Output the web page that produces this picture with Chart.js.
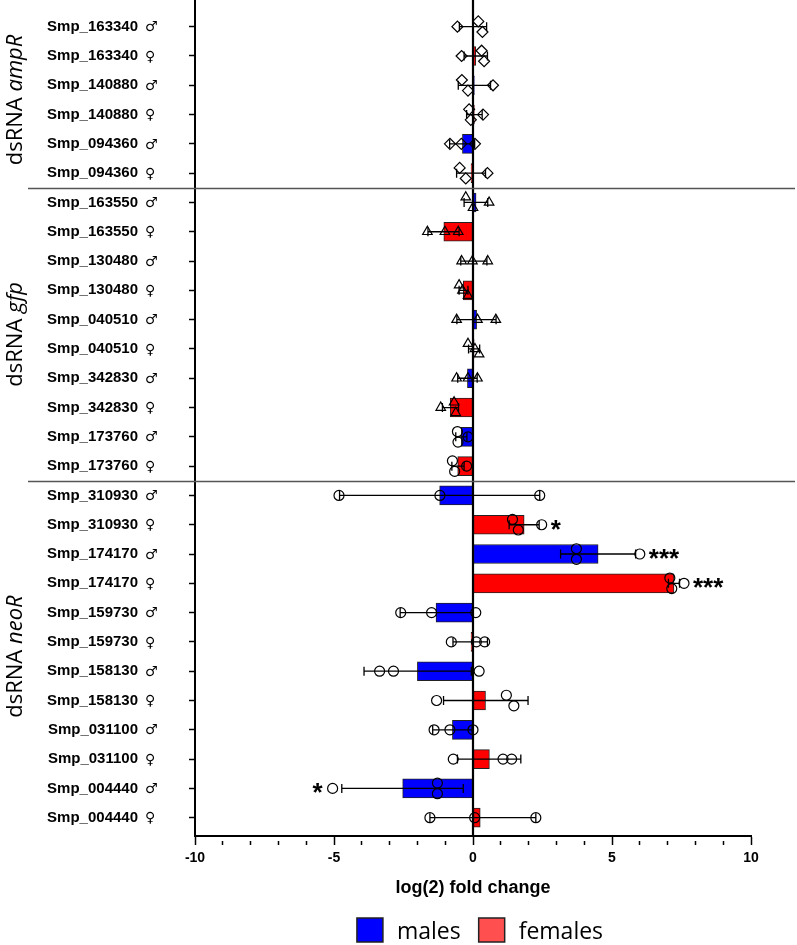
<!DOCTYPE html>
<html>
<head>
<meta charset="utf-8">
<script src="https://cdn.jsdelivr.net/npm/chart.js@4.4.1/dist/chart.umd.min.js"></script>
<style>
  html, body { margin: 0; padding: 0; background: #fff; }
</style>
</head>
<body>
<canvas id="chart" width="797" height="945"></canvas>
<script>
// rows, top to bottom
const labels = [
  'Smp_163340 ♂', 'Smp_163340 ♀', 'Smp_140880 ♂', 'Smp_140880 ♀', 'Smp_094360 ♂', 'Smp_094360 ♀',
  'Smp_163550 ♂', 'Smp_163550 ♀', 'Smp_130480 ♂', 'Smp_130480 ♀', 'Smp_040510 ♂', 'Smp_040510 ♀',
  'Smp_342830 ♂', 'Smp_342830 ♀', 'Smp_173760 ♂', 'Smp_173760 ♀',
  'Smp_310930 ♂', 'Smp_310930 ♀', 'Smp_174170 ♂', 'Smp_174170 ♀', 'Smp_159730 ♂', 'Smp_159730 ♀',
  'Smp_158130 ♂', 'Smp_158130 ♀', 'Smp_031100 ♂', 'Smp_031100 ♀', 'Smp_004440 ♂', 'Smp_004440 ♀'
];

// mean log2 fold change
const means = [
  0.0, 0.1, 0.05, 0.05, -0.38, -0.07,
  0.11, -1.05, 0.03, -0.35, 0.13, 0.04, -0.2, -0.82, -0.42, -0.55,
  -1.2, 1.84, 4.5, 7.23, -1.33, -0.07, -2.0, 0.45, -0.74, 0.59, -2.53, 0.26
];
// error bar ends
const errLow = [
  -0.49, -0.32, -0.53, -0.23, -0.84, -0.59,
  -0.32, -1.62, -0.44, -0.5, -0.58, -0.16, -0.55, -1.1, -0.62, -0.76,
  -4.8, 1.3, 3.15, 7.03, -2.62, -0.72, -3.92, -1.06, -1.45, -0.56, -4.72, -1.55
];
const errHigh = [
  0.49, 0.52, 0.63, 0.33, 0.06, 0.45,
  0.53, -0.5, 0.5, -0.18, 0.83, 0.24, 0.15, -0.52, -0.22, -0.32,
  2.4, 2.38, 5.85, 7.43, 0.0, 0.52, -0.06, 1.98, -0.03, 1.72, -0.35, 2.26
];
// individual replicates
const replicates = [
  [-0.56, 0.19, 0.34], [-0.41, 0.31, 0.40], [-0.40, -0.18, 0.72], [-0.14, -0.08, 0.36],
  [-0.83, -0.42, 0.07], [-0.48, -0.26, 0.52],
  [-0.26, 0.0, 0.58], [-1.64, -1.01, -0.53], [-0.41, -0.02, 0.53], [-0.5, -0.38, -0.18],
  [-0.59, 0.16, 0.82], [-0.18, 0.07, 0.22], [-0.59, -0.18, 0.16], [-1.16, -0.68, -0.62],
  [-0.56, -0.54, -0.18], [-0.74, -0.66, -0.23],
  [-4.82, -1.19, 2.40], [1.42, 1.63, 2.47], [3.72, 3.72, 6.0], [7.08, 7.15, 7.59],
  [-2.6, -1.49, 0.1], [-0.78, 0.12, 0.42], [-3.36, -2.86, 0.22], [-1.31, 1.2, 1.47],
  [-1.4, -0.83, 0.0], [-0.71, 1.08, 1.39], [-5.05, -1.28, -1.28], [-1.55, 0.06, 2.26]
];
const stars = [
  '', '', '', '', '', '',
  '', '', '', '', '', '', '', '', '', '',
  '', '*', '***', '***', '', '', '', '', '', '', '*', ''
];
// dsRNA treatment groups: name, first row, last row
const groupNames = ['ampR', 'gfp', 'neoR'];
const groupFirst = [0, 6, 16];
const groupLast = [5, 15, 27];

const xTicks = [-10, -5, 0, 5, 10];

// marker shape per run of rows
const markerRuns = [['rectRot', 6], ['triangle', 8], ['circle', 14]];
function markerOf(row) {
  let start = 0;
  for (const [shape, n] of markerRuns) {
    if (row < start + n) return shape;
    start += n;
  }
  return 'circle';
}

const FONT = "'Liberation Sans', Arial, sans-serif";

// bars: males on even rows, females on odd rows
const maleBars = [], femaleBars = [];
means.forEach((v, i) => (i % 2 === 0 ? maleBars : femaleBars).push({ x: v, y: i }));

// replicate points, nudged up/down when they overlap
const points = [];
replicates.forEach((vals, row) => {
  const sorted = vals.map((v, k) => ({ v, k })).sort((a, b) => a.v - b.v);
  let cluster = [sorted[0]];
  const flush = () => {
    const n = cluster.length;
    cluster.forEach((p, j) => {
      const off = n === 1 ? 0 : (j / (n - 1) - 0.5) * 0.36;
      points.push({ x: p.v, y: row + off, row: row });
    });
  };
  for (let j = 1; j < sorted.length; j++) {
    if (sorted[j].v - sorted[j - 1].v < 0.3) cluster.push(sorted[j]);
    else { flush(); cluster = [sorted[j]]; }
  }
  flush();
});

const overlay = {
  id: 'overlay',
  beforeDatasetDraw(chart, args) {
    if (args.meta.type !== 'scatter') return;
    const xs = chart.scales.x, ys = chart.scales.y, c = chart.ctx;
    c.save();
    c.strokeStyle = '#000';
    c.lineWidth = 1.3;
    means.forEach((m, i) => {
      const y = ys.getPixelForValue(i);
      const a = xs.getPixelForValue(errLow[i]), b = xs.getPixelForValue(errHigh[i]);
      c.beginPath();
      c.moveTo(a, y); c.lineTo(b, y);
      c.moveTo(a, y - 4.5); c.lineTo(a, y + 4.5);
      c.moveTo(b, y - 4.5); c.lineTo(b, y + 4.5);
      c.stroke();
    });
    c.restore();
  },
  afterDatasetsDraw(chart) {
    const xs = chart.scales.x, ys = chart.scales.y, c = chart.ctx, area = chart.chartArea;
    c.save();
    // zero line
    const x0 = xs.getPixelForValue(0);
    c.strokeStyle = '#000';
    c.lineWidth = 2.2;
    c.beginPath(); c.moveTo(x0, area.top); c.lineTo(x0, area.bottom); c.stroke();
    // significance stars
    c.fillStyle = '#000';
    c.font = 'bold 26px ' + FONT;
    c.textBaseline = 'alphabetic';
    stars.forEach((s, i) => {
      if (!s) return;
      const y = ys.getPixelForValue(i) + 13;
      if (means[i] >= 0) {
        const far = Math.max(errHigh[i], ...replicates[i]);
        c.textAlign = 'left';
        c.fillText(s, xs.getPixelForValue(far) + 9, y);
      } else {
        const far = Math.min(errLow[i], ...replicates[i]);
        c.textAlign = 'right';
        c.fillText(s, xs.getPixelForValue(far) - 10, y);
      }
    });
    c.restore();
  },
  afterDraw(chart) {
    const ys = chart.scales.y, c = chart.ctx;
    c.save();
    // sex symbols after the gene names
    c.fillStyle = '#000';
    c.font = "14px 'DejaVu Sans', sans-serif";
    c.textAlign = 'left';
    c.textBaseline = 'middle';
    labels.forEach((lab, i) => {
      c.fillText(lab.split(' ')[1], 145, ys.getPixelForValue(i) + 1);
    });
    // separators between treatment groups
    c.strokeStyle = '#555';
    c.lineWidth = 1.5;
    for (let g = 1; g < groupFirst.length; g++) {
      const y = Math.round(ys.getPixelForValue(groupFirst[g] - 0.5)) + 0.5;
      c.beginPath(); c.moveTo(28, y); c.lineTo(795, y); c.stroke();
    }
    // group titles
    c.textBaseline = 'alphabetic';
    groupNames.forEach((name, g) => {
      const yc = (ys.getPixelForValue(groupFirst[g]) + ys.getPixelForValue(groupLast[g])) / 2;
      const reg = "22px 'Open Sans', sans-serif", ita = "italic 22px 'Open Sans', sans-serif";
      c.font = reg; const w1 = c.measureText('dsRNA ').width;
      c.font = ita; const w2 = c.measureText(name).width;
      c.save();
      c.translate(21.5, yc);
      c.rotate(-Math.PI / 2);
      c.textAlign = 'left';
      c.font = reg; c.fillText('dsRNA ', -(w1 + w2) / 2, 0);
      c.font = ita; c.fillText(name, -(w1 + w2) / 2 + w1, 0);
      c.restore();
    });
    // legend
    const items = [['males', '#0000ff'], ['females', '#ff4f4f']];
    c.font = "23px 'Open Sans', sans-serif";
    const widths = items.map(it => c.measureText(it[0]).width);
    const total = widths.reduce((a, b) => a + b, 0) + items.length * 40 + 18;
    let x = 480 - total / 2;
    c.textAlign = 'left';
    items.forEach((it, k) => {
      c.fillStyle = it[1];
      c.fillRect(x, 918, 26, 24);
      c.strokeStyle = '#222';
      c.lineWidth = 1.5;
      c.strokeRect(x, 918, 26, 24);
      c.fillStyle = '#000';
      c.fillText(it[0], x + 40, 939);
      x += 40 + widths[k] + 18;
    });
    c.restore();
  }
};

new Chart(document.getElementById('chart'), {
  type: 'bar',
  data: {
    datasets: [
      { label: 'males', data: maleBars, backgroundColor: '#0000ff', borderColor: '#222',
        borderWidth: 1, borderSkipped: false, barThickness: 19, grouped: false, order: 2 },
      { label: 'females', data: femaleBars, backgroundColor: '#ff0000', borderColor: '#222',
        borderWidth: 1, borderSkipped: false, barThickness: 19, grouped: false, order: 2 },
      { type: 'scatter', label: 'replicates', data: points, order: 1,
        backgroundColor: 'rgba(0,0,0,0)', borderColor: '#000', borderWidth: 1.2,
        pointStyle: ctx => markerOf(ctx.raw ? ctx.raw.row : 0),
        pointRadius: ctx => (markerOf(ctx.raw ? ctx.raw.row : 0) === 'circle' ? 5 : 5.5) }
    ]
  },
  options: {
    indexAxis: 'y',
    responsive: false,
    animation: false,
    layout: { autoPadding: false, padding: { left: 0, right: 46, top: 0, bottom: 0 } },
    plugins: { legend: { display: false }, tooltip: { enabled: false } },
    scales: {
      x: {
        type: 'linear', position: 'bottom', min: -10, max: 10,
        afterFit: s => { s.height = 109; },
        afterBuildTicks: s => {
          s.ticks = [];
          for (let v = xTicks[0]; v <= xTicks[xTicks.length - 1]; v++) s.ticks.push({ value: v });
        },
        ticks: {
          autoSkip: false, maxRotation: 0, padding: 5, color: '#000',
          font: { family: FONT, size: 14, weight: 'bold' },
          callback: v => (xTicks.includes(v) ? String(v) : '')
        },
        grid: {
          drawOnChartArea: false, tickLength: 9, tickColor: '#000', tickWidth: 1.5,
          tickBorderDash: ctx => (ctx.tick && xTicks.includes(ctx.tick.value) ? [] : [0, 4, 6, 40])
        },
        border: { color: '#000', width: 2 },
        title: {
          display: true, text: 'log(2) fold change', color: '#000',
          font: { family: FONT, size: 18, weight: 'bold' },
          padding: { top: 4, bottom: 46 }
        }
      },
      y: {
        type: 'linear', position: 'left', reverse: true, min: -0.911, max: 27.625,
        offset: false,
        afterFit: s => { s.width = 195; s.paddingTop = 0; s.paddingBottom = 0; },
        afterBuildTicks: s => { s.ticks = labels.map((_, i) => ({ value: i })); },
        ticks: {
          autoSkip: false, padding: 51, color: '#000',
          font: { family: FONT, size: 15, weight: 'bold' },
          callback: v => labels[v].split(' ')[0]
        },
        grid: { offset: false, drawOnChartArea: false, tickLength: 6, tickColor: '#000', tickWidth: 1.5 },
        border: { color: '#000', width: 2 }
      }
    }
  },
  plugins: [overlay]
});
</script>
</body>
</html>
